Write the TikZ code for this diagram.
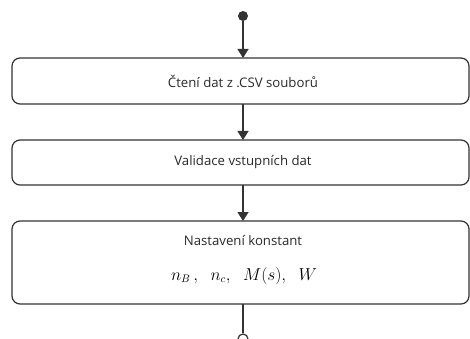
\documentclass[tikz,border=0pt]{standalone}
\usepackage{fontspec}
\setmainfont{Open Sans}
\usetikzlibrary{arrows.meta}
\definecolor{ln}{HTML}{333333}
\begin{document}
\begin{tikzpicture}[x=1pt,y=-1pt,
  box/.style={draw=ln,line width=1.2pt,rounded corners=8pt,inner sep=0pt},
  conn/.style={draw=ln,line width=1.2pt,-{Triangle[width=11pt,length=9pt]}},
  txt/.style={font=\fontsize{13.2}{15}\selectfont,text=ln!80!black}]
\useasboundingbox (0,0) rectangle (470,339);
\node[circle,fill=ln,inner sep=0pt,minimum size=10pt] (start) at (243,16) {};
\draw[box] (12,58) rectangle (469,104);
\coordinate (b1t) at (243,58);
\coordinate (b1b) at (243,104);
\node[txt] (t1) at (243,81) {Čtení dat z .CSV souborů};
\draw[box] (12,140) rectangle (469,185);
\coordinate (b2t) at (243,140);
\coordinate (b2b) at (243,185);
\node[txt] (t2) at (243,162.5) {Validace vstupních dat};
\draw[box] (12,221) rectangle (469,304);
\coordinate (b3t) at (243,221);
\coordinate (b3b) at (243,304);
\node[txt] (t3) at (243,241) {Nastavení konstant};
\node[font=\fontsize{16.2}{19}\selectfont] (m3) at (244,276) {$n_B\,,\;\; n_c,\;\; M(s),\;\; W$};
\node[circle,draw=ln,fill=white,line width=1.2pt,inner sep=0pt,minimum size=10pt] (end) at (243,339) {};
\draw[conn] (start) -- (b1t);
\draw[conn] (b1b) -- (b2t);
\draw[conn] (b2b) -- (b3t);
\draw[draw=ln,line width=1.2pt] (b3b) -- (end);
\end{tikzpicture}
\end{document}
